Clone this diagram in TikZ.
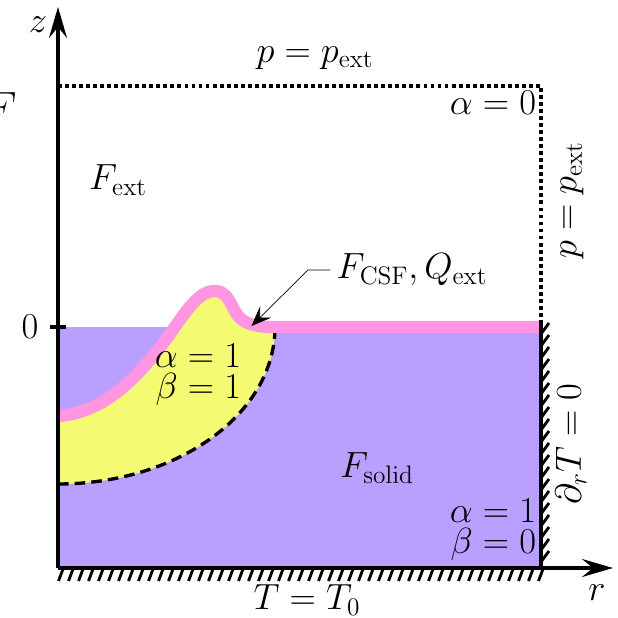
\documentclass[tikz,border=0pt]{standalone}
\usetikzlibrary{arrows.meta}
\definecolor{solidpurple}{RGB}{185,160,255}
\definecolor{liquidyellow}{RGB}{245,250,115}
\definecolor{surfpink}{RGB}{255,150,225}
\begin{document}
\begin{tikzpicture}[
  domaxis/.style = {line width=1.9pt, -{Stealth[length=0.62cm, width=0.36cm, inset=0.22cm]}},
  domwall/.style = {line width=1.9pt},
  domhatch/.style = {line width=1.6pt},
  domopen/.style = {line width=2pt, dash pattern=on 2.2pt off 1.8pt},
  domfront/.style = {line width=1.9pt, dash pattern=on 6pt off 3.5pt},
  domsurf/.style = {line width=7pt, surfpink},
  domleader/.style = {thin, -{Stealth[length=0.4cm, width=0.32cm, inset=0.16cm]}},
  domlbl/.style = {font=\fontsize{20}{17.5}\selectfont, align=center}
]
  \useasboundingbox (-1.16,-1.0) rectangle (11.18,11.36);
  % solid and liquid
  \fill[solidpurple] (0,0) rectangle (9.66,4.82);
  \fill[liquidyellow] (0,3.04) .. controls (0.8,3.1) and (1.4,3.6) .. (2.0,4.36)
    .. controls (2.5,5.0) and (2.75,5.55) .. (3.15,5.54)
    .. controls (3.5,5.52) and (3.45,5.02) .. (3.8,4.9)
    .. controls (3.95,4.84) and (4.1,4.82) .. (4.34,4.82)
    arc[start angle=0, end angle=-90, x radius=4.34, y radius=3.14] -- cycle;
  \draw[domfront] (0,1.68) arc[start angle=-90, end angle=0, x radius=4.34, y radius=3.14];
  % free surface
  \draw[domsurf] (0,3.04) .. controls (0.8,3.1) and (1.4,3.6) .. (2.0,4.36)
    .. controls (2.5,5.0) and (2.75,5.55) .. (3.15,5.54)
    .. controls (3.5,5.52) and (3.45,5.02) .. (3.8,4.9)
    .. controls (3.95,4.84) and (4.1,4.82) .. (4.3,4.82) -- (9.66,4.82);
  % open boundary
  \draw[domopen] (0,9.64) -- (9.66,9.64) -- (9.66,4.94);
  % walls
  \draw[domwall] (9.66,4.94) -- (9.66,0);
  \foreach \y in {0.12,0.36,...,4.7}
    \draw[domhatch] (9.66,\y) -- ++(0.16,0.22);
  \foreach \x in {0.1,0.3,...,9.8}
    \draw[domhatch] (\x,-0.02) -- ++(-0.09,-0.24);
  % axes
  \draw[domaxis] (0,0) -- (0,11.22);
  \draw[domaxis] (0,0) -- (11.1,0);
  \draw[domwall] (-0.16,4.82) -- (0.16,4.82);
  \node[domlbl] (zlbl) at (-0.4,10.86) {$z$};
  \node[domlbl] (rlbl) at (10.78,-0.5) {$r$};
  \node[domlbl] (zero) at (-0.56,4.82) {$0$};
  \node[domlbl, anchor=north east, inner sep=0pt, font=\fontsize{27}{27}\selectfont] (cutF) at (-0.82,9.52) {$F$};
  % labels
  \node[domlbl] (ptop) at (5.14,10.2) {$p=p_{\mathrm{ext}}$};
  \node[domlbl] (prt) at (10.28,7.36) [rotate=90] {$p=p_{\mathrm{ext}}$};
  \node[domlbl] (aext) at (8.7,9.3) {$\alpha=0$};
  \node[domlbl] (fext) at (1.2,7.76) {$F_{\mathrm{ext}}$};
  \node[domlbl, align=right] (liq) at (2.8,3.86) {$\alpha=1$\\$\beta=1$};
  \node[domlbl] (fsol) at (6.38,2.0) {$F_{\mathrm{solid}}$};
  \node[domlbl, align=right] (sol) at (8.7,0.76) {$\alpha=1$\\$\beta=0$};
  \node[domlbl] (drt) at (10.26,2.48) [rotate=90] {$\partial_r T=0$};
  \node[domlbl, inner sep=1pt] (tbot) at (4.98,-0.64) {$T=T_0$};
  \node[domlbl] (csf) at (7.08,5.96) {$F_{\mathrm{CSF}},Q_{\mathrm{ext}}$};
  \coordinate (csftip) at (3.87,4.84);
  \draw[domleader] (csf.west) -- ++(-0.45,0) -- (csftip);
\end{tikzpicture}
\end{document}
